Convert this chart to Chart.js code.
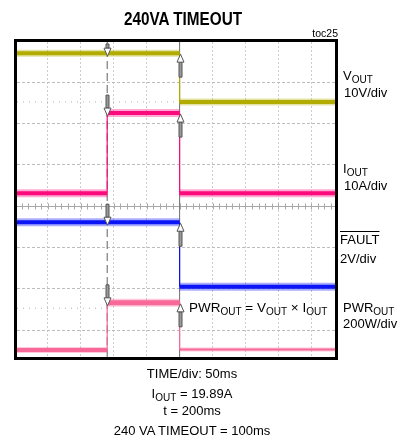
<!DOCTYPE html>
<html><head><meta charset="utf-8">
<script src="https://cdn.jsdelivr.net/npm/chart.js@4.4.1/dist/chart.umd.min.js"></script>
<style>
html,body{margin:0;padding:0;background:#fff;}
#wrap{position:relative;width:405px;height:443px;overflow:hidden;font-family:'Liberation Sans',Arial,Helvetica,sans-serif;color:#000;}
#c{position:absolute;left:0;top:0;}
.t{position:absolute;white-space:nowrap;font-size:13px;line-height:13px;}
.s{font-size:10px;vertical-align:-3px;line-height:0;}
.ctr{left:0;width:384px;text-align:center;}
</style></head><body>
<div id="wrap">
<canvas id="c" width="405" height="443"></canvas>
<div class="t" style="left:0;width:366px;top:10px;text-align:center;font-weight:bold;font-size:18px;line-height:18px;transform:scaleX(0.85);">240VA TIMEOUT</div>
<div class="t" style="right:67px;top:28px;font-size:10.5px;line-height:11px;">toc25</div>

<div class="t" style="left:343px;top:69px;">V<span class="s">OUT</span></div>
<div class="t" style="left:344px;top:86px;">10V/div</div>
<div class="t" style="left:343px;top:162px;">I<span class="s">OUT</span></div>
<div class="t" style="left:344px;top:179px;">10A/div</div>
<div class="t" style="left:340px;top:233px;text-decoration:overline;">FAULT</div>
<div class="t" style="left:340px;top:252px;">2V/div</div>
<div class="t" style="left:343px;top:301px;">PWR<span class="s">OUT</span></div>
<div class="t" style="left:343px;top:317px;">200W/div</div>

<div class="t" style="left:189px;top:301px;font-size:13.5px;">PWR<span class="s">OUT</span> = V<span class="s">OUT</span> × I<span class="s">OUT</span></div>

<div class="t ctr" style="top:367px;">TIME/div: 50ms</div>
<div class="t ctr" style="top:387px;">I<span class="s">OUT</span> = 19.89A</div>
<div class="t ctr" style="top:404px;">t = 200ms</div>
<div class="t ctr" style="top:424px;">240 VA TIMEOUT = 100ms</div>
</div>
<script>
// ---- data (time in ms, levels in screen divisions from centre) ----
const timeEdgesMs = [3, 140, 250, 486];
const cursorMs = [140, 250];
const voutDiv  = [3.70, 3.70, 2.52];
const ioutDiv  = [0.31, 2.25, 0.31];
const faultDiv = [-0.39, -0.39, -1.95];
const pwrDiv   = [-3.48, -2.34, -3.47];
const refLevelDiv   = [2.52, -2.47];
const refLevelEndMs = [250, 140];
const xRangeMs = [3, 486];
const yRangeDiv = [-3.65, 3.97];
const timePerDivMs = 50;

// ---- styles ----
const traces = [
  {levels: voutDiv,  color: '#b2ab00', halo: 'rgba(178,171,0,0.35)',  core: [4,4,4], haloW: [7,7,7]},
  {levels: ioutDiv,  color: '#fb0a7c', halo: 'rgba(251,10,124,0.35)', core: [4,4,4], haloW: [8,8,8]},
  {levels: faultDiv, color: '#0a14f5', halo: 'rgba(10,20,245,0.35)',  core: [4,4,4], haloW: [8,8,8]},
  {levels: pwrDiv,   color: '#f8699a', halo: 'rgba(248,105,154,0.35)',core: [4,5,2], haloW: [6,8,4]}
];

const datasets = [];
function seg(points, color, width, order, dash) {
  datasets.push({data: points, borderColor: color, borderWidth: width, pointRadius: 0,
    fill: false, tension: 0, order: order, borderDash: dash || [], borderCapStyle: 'butt'});
}
// cursors
seg([{x: cursorMs[0], y: yRangeDiv[0]}, {x: cursorMs[0], y: yRangeDiv[1]}], '#606060', 1, 20, [8, 4]);
seg([{x: cursorMs[1], y: yRangeDiv[0]}, {x: cursorMs[1], y: yRangeDiv[1]}], '#707070', 1, 20);
// dotted persistence references
refLevelDiv.forEach((lv, i) => seg([{x: xRangeMs[0], y: lv}, {x: refLevelEndMs[i], y: lv}], '#b0b0b0', 1, 18, [1, 5]));
// traces
traces.forEach(tr => {
  for (let i = 0; i < tr.levels.length; i++) {
    const pts = [{x: timeEdgesMs[i], y: tr.levels[i]}, {x: timeEdgesMs[i + 1], y: tr.levels[i]}];
    seg(pts, tr.halo, tr.haloW[i], 6);
    seg(pts, tr.color, tr.core[i], 2);
  }
  for (let i = 1; i < tr.levels.length; i++) {
    if (tr.levels[i] !== tr.levels[i - 1]) {
      seg([{x: timeEdgesMs[i], y: tr.levels[i - 1]}, {x: timeEdgesMs[i], y: tr.levels[i]}], tr.color, 1.2, 4);
    }
  }
});

const scopePlugin = {
  id: 'scope',
  beforeDatasetsDraw(chart) {
    const {ctx, chartArea: a, scales: {x, y}} = chart;
    const y0 = Math.round(y.getPixelForValue(0)) + 0.5;
    ctx.save();
    ctx.strokeStyle = '#a8a8a8';
    ctx.lineWidth = 1;
    ctx.beginPath();
    ctx.moveTo(a.left, y0); ctx.lineTo(a.right, y0);
    for (let t = 10; t < xRangeMs[1]; t += timePerDivMs / 5) {
      const px = Math.round(x.getPixelForValue(t)) + 0.5;
      ctx.moveTo(px, y0 - 3); ctx.lineTo(px, y0 + 3);
    }
    ctx.stroke();
    ctx.restore();
  },
  afterDatasetsDraw(chart) {
    const {ctx, chartArea: a, scales: {x, y}} = chart;
    function arrow(px, tip, dir, len) {
      const tail = Math.max(a.top + 2, Math.min(a.bottom - 2, tip - dir * len));
      const base = tip - dir * 8;
      ctx.fillStyle = '#9a9a9a';
      ctx.strokeStyle = '#555';
      ctx.lineWidth = 1;
      ctx.beginPath();
      ctx.rect(px - 1.5, Math.min(tail, base), 3, Math.abs(base - tail));
      ctx.fill(); ctx.stroke();
      ctx.fillStyle = '#fff';
      ctx.beginPath();
      ctx.moveTo(px, tip); ctx.lineTo(px - 3.5, base); ctx.lineTo(px + 3.5, base); ctx.closePath();
      ctx.fill(); ctx.stroke();
    }
    ctx.save();
    const p0 = Math.round(x.getPixelForValue(cursorMs[0])) + 0.5;
    const p1 = Math.round(x.getPixelForValue(cursorMs[1])) + 0.5;
    traces.forEach(tr => {
      const ly = y.getPixelForValue(tr.levels[1]);
      arrow(p0, ly + 3, 1, 21);
      arrow(p1, ly + 1, -1, 23);
    });
    ctx.restore();
  },
  afterDraw(chart) {
    const {ctx, chartArea: a} = chart;
    ctx.save();
    ctx.strokeStyle = '#000';
    ctx.lineWidth = 3;
    ctx.strokeRect(a.left - 1.5, a.top - 1.5, a.right - a.left + 3, a.bottom - a.top + 3);
    ctx.restore();
  }
};

new Chart(document.getElementById('c'), {
  type: 'line',
  data: {datasets},
  options: {
    responsive: false, animation: false, events: [],
    layout: {padding: {left: 17, top: 42, right: 70, bottom: 86}},
    plugins: {legend: {display: false}, tooltip: {enabled: false}, title: {display: false}},
    scales: {
      x: {type: 'linear', min: xRangeMs[0], max: xRangeMs[1],
          ticks: {display: false, stepSize: timePerDivMs, includeBounds: false},
          grid: {color: '#cdcdcd', lineWidth: 1, drawTicks: false},
          border: {display: false, dash: [2, 2]}},
      y: {type: 'linear', min: yRangeDiv[0], max: yRangeDiv[1],
          ticks: {display: false, stepSize: 1, includeBounds: false},
          grid: {color: '#bdbdbd', lineWidth: 1, drawTicks: false},
          border: {display: false, dash: [3, 2]}}
    }
  },
  plugins: [scopePlugin]
});
</script>
</body></html>
